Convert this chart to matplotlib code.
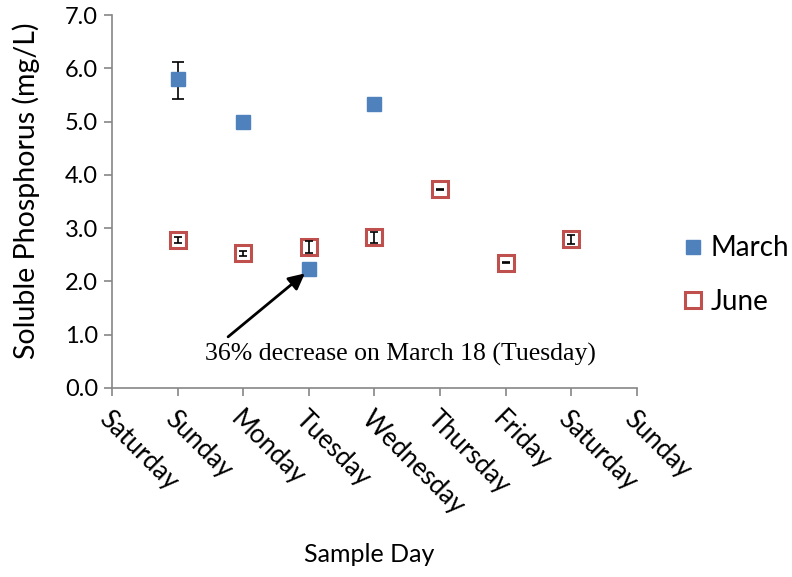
import numpy as np
import matplotlib
matplotlib.use("Agg")
import matplotlib.pyplot as plt

# data
days = ["Saturday", "Sunday", "Monday", "Tuesday", "Wednesday",
        "Thursday", "Friday", "Saturday", "Sunday"]
march_x = [1, 2, 3, 4]
march_y = [5.80, 5.00, 2.23, 5.33]
march_err_lo = [0.37, 0, 0, 0]
march_err_hi = [0.31, 0, 0, 0]
june_x = [1, 2, 3, 4, 5, 6, 7]
june_y = [2.78, 2.53, 2.65, 2.83, 3.73, 2.35, 2.79]
june_err = [0.06, 0.05, 0.11, 0.10, 0.01, 0.01, 0.08]

blue = "#4F81BD"
red = "#C0504D"
sans = ["Lato", "DejaVu Sans"]
serif = ["Liberation Serif", "DejaVu Serif"]

fig = plt.figure(figsize=(7.92, 5.77), dpi=100)
ax = fig.add_axes([0.1414, 0.3276, 0.804 - 0.1414, 0.974 - 0.3276])

ax.errorbar(march_x, march_y, yerr=[march_err_lo, march_err_hi], fmt="none",
            ecolor="black", elinewidth=1.2, capsize=4, capthick=1.2, zorder=2)
m1, = ax.plot(march_x, march_y, linestyle="none", marker="s", markersize=10.5,
              color=blue, markeredgecolor=blue, label="March", zorder=3)
m2, = ax.plot(june_x, june_y, linestyle="none", marker="s", markersize=11,
              markerfacecolor="white", markeredgecolor=red, markeredgewidth=2.2,
              label="June", zorder=3)
ax.errorbar(june_x, june_y, yerr=june_err, fmt="none", ecolor="black",
            elinewidth=1.2, capsize=3, capthick=1.2, zorder=4)

ax.set_xlim(0, 8)
ax.set_ylim(0, 7)
ax.set_xticks(range(len(days)))
ax.set_xticklabels(days, rotation=-45, ha="left", va="top",
                   rotation_mode="anchor", fontsize=18.5, family=sans)
ax.set_yticks(np.arange(0, 7.1, 1))
ax.set_yticklabels([f"{v:.1f}" for v in np.arange(0, 7.1, 1)],
                   fontsize=17, family=sans)

for s in ["top", "right"]:
    ax.spines[s].set_visible(False)
for s in ["left", "bottom"]:
    ax.spines[s].set_color("#868686")
    ax.spines[s].set_linewidth(1.2)
ax.tick_params(axis="both", direction="out", color="#868686", length=6, width=1.2)
ax.tick_params(axis="x", pad=7)
ax.tick_params(axis="y", pad=4)

ax.set_ylabel("Soluble Phosphorus (mg/L)", fontsize=20.5, family=sans)
ax.yaxis.set_label_coords(-0.137, 0.528)
ax.set_xlabel("Sample Day", fontsize=18, family=sans)
ax.xaxis.set_label_coords(0.49, -0.415)

# arrow and note
ax.annotate("", xy=(march_x[2] - 0.06, march_y[2] - 0.08), xytext=(1.77, 0.96),
            arrowprops=dict(arrowstyle="-|>", color="black", lw=2,
                            mutation_scale=24, shrinkA=0, shrinkB=0))
ax.text(4.4, 0.62, "36% decrease on March 18 (Tuesday)", ha="center", va="center",
        fontsize=18.5, family=serif)

fig.legend(handles=[m1, m2], loc="center left", bbox_to_anchor=(0.857, 0.523),
           frameon=False, prop={"family": sans, "size": 20}, labelspacing=1.0,
           handletextpad=0.15, handlelength=1.0, borderaxespad=0, borderpad=0)

fig.savefig("out.png", dpi=100)
